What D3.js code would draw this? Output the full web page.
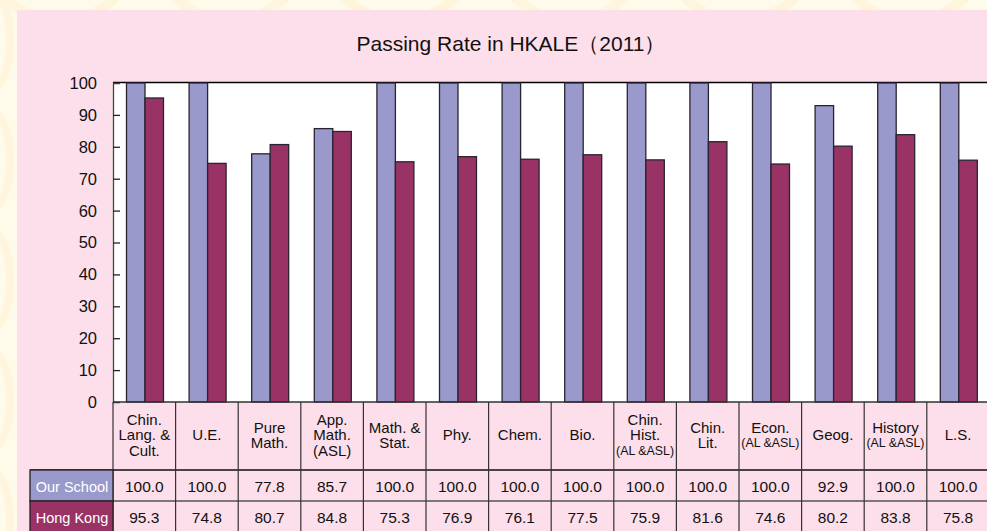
<!DOCTYPE html>
<html>
<head>
<meta charset="utf-8">
<script src="https://cdn.jsdelivr.net/npm/d3@7"></script>
<style>
  body { margin: 0; background: #fffbea; }
  svg { display: block; font-family: Arial, "Liberation Sans", sans-serif; }
</style>
</head>
<body>
<svg width="987" height="531"></svg>
<script>
// chart data
var categories = [
  ["Chin.", "Lang. &", "Cult."],
  ["U.E."],
  ["Pure", "Math."],
  ["App.", "Math.", "(ASL)"],
  ["Math. &", "Stat."],
  ["Phy."],
  ["Chem."],
  ["Bio."],
  ["Chin.", "Hist.", "(AL &ASL)"],
  ["Chin.", "Lit."],
  ["Econ.", "(AL &ASL)"],
  ["Geog."],
  ["History", "(AL &ASL)"],
  ["L.S."]
];
var seriesNames = ["Our School", "Hong Kong"];
var ourSchool = [100.0, 100.0, 77.8, 85.7, 100.0, 100.0, 100.0, 100.0, 100.0, 100.0, 100.0, 92.9, 100.0, 100.0];
var hongKong = [95.3, 74.8, 80.7, 84.8, 75.3, 76.9, 76.1, 77.5, 75.9, 81.6, 74.6, 80.2, 83.8, 75.8];
var yTicks = [0, 10, 20, 30, 40, 50, 60, 70, 80, 90, 100];
var colors = ["#9999cc", "#993366"];

var svg = d3.select("svg");

// cream background with faint curls
var deco = svg.append("g");
[60, 230, 400, 570, 740, 910].forEach(function (cx) {
  deco.append("ellipse").attr("cx", cx).attr("cy", -40).attr("rx", 70).attr("ry", 60)
    .attr("fill", "none").attr("stroke", "#fff4dc").attr("stroke-width", 10);
});
[40, 160, 280, 400, 520].forEach(function (cy) {
  deco.append("ellipse").attr("cx", -8).attr("cy", cy).attr("rx", 18).attr("ry", 48)
    .attr("fill", "none").attr("stroke", "#fff4dc").attr("stroke-width", 8);
});

// pink panel
svg.append("rect").attr("x", 17).attr("y", 10).attr("width", 980).attr("height", 530).attr("fill", "#fcdfea");

svg.append("text").attr("x", 511).attr("y", 51).attr("text-anchor", "middle")
  .attr("font-size", 21).attr("fill", "#111").text("Passing Rate in HKALE\uFF082011\uFF09");

var pLeft = 113, pTop = 83, pBottom = 402, colW = 62.6;
var idx = d3.range(categories.length);

var x = d3.scaleBand().domain(idx).range([pLeft, pLeft + colW * categories.length]).padding(0);
var xs = d3.scaleBand().domain([0, 1]).range([13.5, 50.5]).padding(0);
var y = d3.scaleLinear().domain([0, 100]).range([pBottom, pTop]);

// plot area
svg.append("rect").attr("x", pLeft).attr("y", pTop).attr("width", 987 - pLeft).attr("height", pBottom - pTop).attr("fill", "#fff");
svg.append("line").attr("x1", pLeft).attr("x2", 987).attr("y1", pTop - 0.5).attr("y2", pTop - 0.5).attr("stroke", "#000").attr("stroke-width", 1.5);

// bars
var series = [ourSchool, hongKong];
series.forEach(function (vals, s) {
  svg.append("g").selectAll("rect").data(vals).enter().append("rect")
    .attr("x", function (d, i) { return x(i) + xs(s); })
    .attr("y", function (d) { return y(d); })
    .attr("width", xs.bandwidth())
    .attr("height", function (d) { return y(0) - y(d); })
    .attr("fill", colors[s])
    .attr("stroke", "#2a2330").attr("stroke-width", 1.3);
});

// y axis, ticks inside
var yAxis = d3.axisRight(y).tickValues(yTicks).tickSize(7).tickFormat(function () { return ""; });
var ga = svg.append("g").attr("transform", "translate(" + pLeft + ",0)").call(yAxis);
ga.select(".domain").attr("stroke", "#444").attr("stroke-width", 1.3);
ga.selectAll(".tick line").attr("stroke", "#222").attr("stroke-width", 1.3)
  .filter(function (d) { return d === 0 || d === 100; }).remove();
svg.append("g").selectAll("text").data(yTicks).enter().append("text")
  .attr("x", 97).attr("y", function (d) { return y(d); }).attr("dy", "0.36em")
  .attr("text-anchor", "end").attr("font-size", 16.5).attr("fill", "#111")
  .text(function (d) { return d; });

// data table
var r0 = pBottom, r1 = 470, r2 = 501, r3 = 540;
var tbl = svg.append("g");
tbl.append("line").attr("x1", pLeft).attr("x2", 987).attr("y1", r0).attr("y2", r0).attr("stroke", "#333").attr("stroke-width", 1.3);
tbl.append("line").attr("x1", 30).attr("x2", 987).attr("y1", r1).attr("y2", r1).attr("stroke", "#111").attr("stroke-width", 1.5);
tbl.append("line").attr("x1", 30).attr("x2", 987).attr("y1", r2).attr("y2", r2).attr("stroke", "#555").attr("stroke-width", 1.5);
idx.forEach(function (i) {
  tbl.append("line").attr("x1", x(i)).attr("x2", x(i)).attr("y1", r0).attr("y2", r3)
    .attr("stroke", "#333").attr("stroke-width", 1.2);
});

// header cells
[[r1, r2], [r2, r3]].forEach(function (r, s) {
  tbl.append("rect").attr("x", 30).attr("y", r[0]).attr("width", pLeft - 30).attr("height", r[1] - r[0])
    .attr("fill", colors[s]).attr("stroke", "#222").attr("stroke-width", 1.3);
  tbl.append("text").attr("x", 72).attr("y", s === 0 ? 492 : 523).attr("text-anchor", "middle")
    .attr("font-size", 14.5).attr("fill", "#fff").text(seriesNames[s]);
});

// category labels
var cat = tbl.selectAll("g.cat").data(categories).enter().append("g").attr("class", "cat")
  .attr("transform", function (d, i) { return "translate(" + (x(i) + colW / 2) + ",0)"; });
cat.each(function (lines) {
  var g = d3.select(this);
  var h = lines.length * 15.5;
  var y0 = 436 - h / 2 + 12;
  lines.forEach(function (t, k) {
    var small = t.charAt(0) === "(" && t.indexOf("AL") > 0;
    g.append("text").attr("x", 0).attr("y", y0 + k * 15.5 + (small ? -1 : 0)).attr("text-anchor", "middle")
      .attr("font-size", small ? 12 : 15).attr("fill", "#111")
      .attr("textLength", small ? 58 : null).attr("lengthAdjust", "spacingAndGlyphs")
      .text(t);
  });
});

// values
series.forEach(function (vals, s) {
  tbl.append("g").selectAll("text").data(vals).enter().append("text")
    .attr("x", function (d, i) { return x(i) + colW / 2; })
    .attr("y", s === 0 ? 492 : 523)
    .attr("text-anchor", "middle").attr("font-size", 15.5).attr("fill", "#111")
    .text(function (d) { return d.toFixed(1); });
});
</script>
</body>
</html>
